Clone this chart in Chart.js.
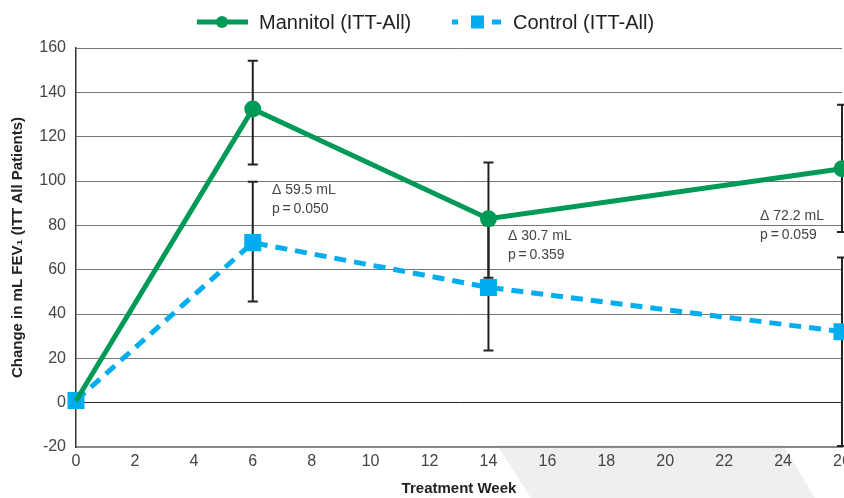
<!DOCTYPE html>
<html>
<head>
<meta charset="utf-8">
<script src="https://cdn.jsdelivr.net/npm/chart.js@4"></script>
<style>
  html, body { margin: 0; padding: 0; background: #fff; overflow: hidden; }
  #wrap { width: 880px; height: 498px; }
</style>
</head>
<body>
<div id="wrap"><canvas id="chart" width="880" height="498"></canvas></div>
<script>
// data
const weeks = [0, 6, 14, 26];
const mannitol = [0.9, 132.5, 83, 105.5];
const control = [1, 72.2, 52, 32];
const mannitolLow = [null, 107.4, 56.4, 77];
const mannitolHigh = [null, 154.3, 108.3, 134.4];
const controlLow = [null, 45.6, 23.5, -19.5];
const controlHigh = [null, 99.7, 80, 65.5];
const xTicks = [0, 2, 4, 6, 8, 10, 12, 14, 16, 18, 20, 22, 24, 26];
const yTicks = [-20, 0, 20, 40, 60, 80, 100, 120, 140, 160];
const notes = [
    { x: 6.65, y: 96, lines: ['\u0394 59.5 mL', 'p\u2009=\u20090.050'] },
    { x: 14.66, y: 75, lines: ['\u0394 30.7 mL', 'p\u2009=\u20090.359'] },
    { x: 23.22, y: 84.3, lines: ['\u0394 72.2 mL', 'p\u2009=\u20090.059'] }
];

const green = '#009a57';
const blue = '#00aeef';
const font = "'Liberation Sans', Arial, sans-serif";

// light grey band behind the bottom axis
const backdrop = {
    id: 'backdrop',
    beforeDraw(chart) {
        const c = chart.ctx;
        c.save();
        c.fillStyle = '#efefef';
        c.beginPath();
        c.moveTo(497, 445);
        c.lineTo(783, 445);
        c.lineTo(815, 498);
        c.lineTo(531, 498);
        c.closePath();
        c.fill();
        c.restore();
    }
};

const errorBars = {
    id: 'errorBars',
    beforeDatasetsDraw(chart) {
        const c = chart.ctx;
        const xs = chart.scales.x, ys = chart.scales.y;
        const sets = [[mannitolLow, mannitolHigh], [controlLow, controlHigh]];
        c.save();
        c.strokeStyle = '#222';
        c.lineWidth = 2;
        sets.forEach(([lo, hi]) => {
            weeks.forEach((w, i) => {
                if (lo[i] == null) return;
                const x = xs.getPixelForValue(w);
                const y1 = ys.getPixelForValue(lo[i]);
                const y2 = ys.getPixelForValue(hi[i]);
                c.beginPath();
                c.moveTo(x, y1); c.lineTo(x, y2);
                c.moveTo(x - 5, y1); c.lineTo(x + 5, y1);
                c.moveTo(x - 5, y2); c.lineTo(x + 5, y2);
                c.stroke();
            });
        });
        c.restore();
    }
};

const notesPlugin = {
    id: 'notes',
    afterDatasetsDraw(chart) {
        const c = chart.ctx;
        const xs = chart.scales.x, ys = chart.scales.y;
        c.save();
        c.font = '14px ' + font;
        c.fillStyle = '#444';
        c.textBaseline = 'middle';
        notes.forEach(n => {
            const x = xs.getPixelForValue(n.x);
            const y = ys.getPixelForValue(n.y);
            n.lines.forEach((t, i) => c.fillText(t, x, y + i * 19));
        });
        c.restore();
    }
};

const legendPlugin = {
    id: 'customLegend',
    afterDraw(chart) {
        const c = chart.ctx;
        const y = 22;
        c.save();
        // mannitol
        c.strokeStyle = green;
        c.lineWidth = 5;
        c.beginPath(); c.moveTo(197, y); c.lineTo(248, y); c.stroke();
        c.fillStyle = green;
        c.beginPath(); c.arc(222, y, 6, 0, Math.PI * 2); c.fill();
        // control
        c.fillStyle = blue;
        c.fillRect(452, y - 2.5, 6, 5);
        c.fillRect(471, y - 6.5, 13, 13);
        c.fillRect(492, y - 2.5, 9, 5);
        c.fillStyle = '#222';
        c.font = '20px ' + font;
        c.textBaseline = 'middle';
        c.fillText('Mannitol (ITT-All)', 259, y + 1);
        c.fillText('Control (ITT-All)', 513, y + 1);
        c.restore();
    }
};

new Chart(document.getElementById('chart'), {
    type: 'line',
    data: {
        labels: weeks,
        datasets: [{
            label: 'Mannitol (ITT-All)',
            data: weeks.map((w, i) => ({ x: w, y: mannitol[i] })),
            borderColor: green,
            backgroundColor: green,
            borderWidth: 5,
            pointRadius: [0, 6, 6, 6],
            pointHoverRadius: 6,
            pointStyle: 'circle',
            tension: 0,
            clip: false
        }, {
            label: 'Control (ITT-All)',
            data: weeks.map((w, i) => ({ x: w, y: control[i] })),
            borderColor: blue,
            backgroundColor: blue,
            borderWidth: 5,
            borderDash: [12, 8],
            pointRadius: 8.5,
            pointHoverRadius: 8.5,
            pointStyle: 'rect',
            tension: 0,
            clip: false
        }]
    },
    options: {
        responsive: false,
        animation: false,
        events: [],
        layout: { padding: { top: 48, right: 38, left: 0, bottom: 0 } },
        plugins: { legend: { display: false }, tooltip: { enabled: false } },
        scales: {
            x: {
                type: 'linear',
                min: 0,
                max: 26,
                afterBuildTicks: s => { s.ticks = xTicks.map(v => ({ value: v })); },
                afterFit: s => { s.height = 51; },
                grid: { display: false, drawTicks: false },
                border: { color: '#888', width: 2 },
                ticks: { color: '#444', font: { family: font, size: 16 }, padding: 5, maxRotation: 0 },
                title: {
                    display: true,
                    text: 'Treatment Week',
                    color: '#222',
                    font: { family: font, size: 15, weight: 'bold' },
                    padding: 0
                }
            },
            y: {
                min: -20,
                max: 160,
                afterBuildTicks: s => { s.ticks = yTicks.map(v => ({ value: v })); },
                afterFit: s => { s.width = 76; },
                grid: {
                    drawTicks: false,
                    color: ctx => ctx.tick && ctx.tick.value === 0 ? '#222' : '#777',
                    lineWidth: 1
                },
                border: { color: '#333', width: 1.5 },
                ticks: { color: '#444', font: { family: font, size: 16 }, padding: 10 },
                title: {
                    display: true,
                    text: 'Change in mL FEV\u2081 (ITT All Patients)',
                    color: '#222',
                    font: { family: font, size: 15, weight: 'bold' },
                    padding: 9
                }
            }
        }
    },
    plugins: [backdrop, errorBars, notesPlugin, legendPlugin]
});
</script>
</body>
</html>
